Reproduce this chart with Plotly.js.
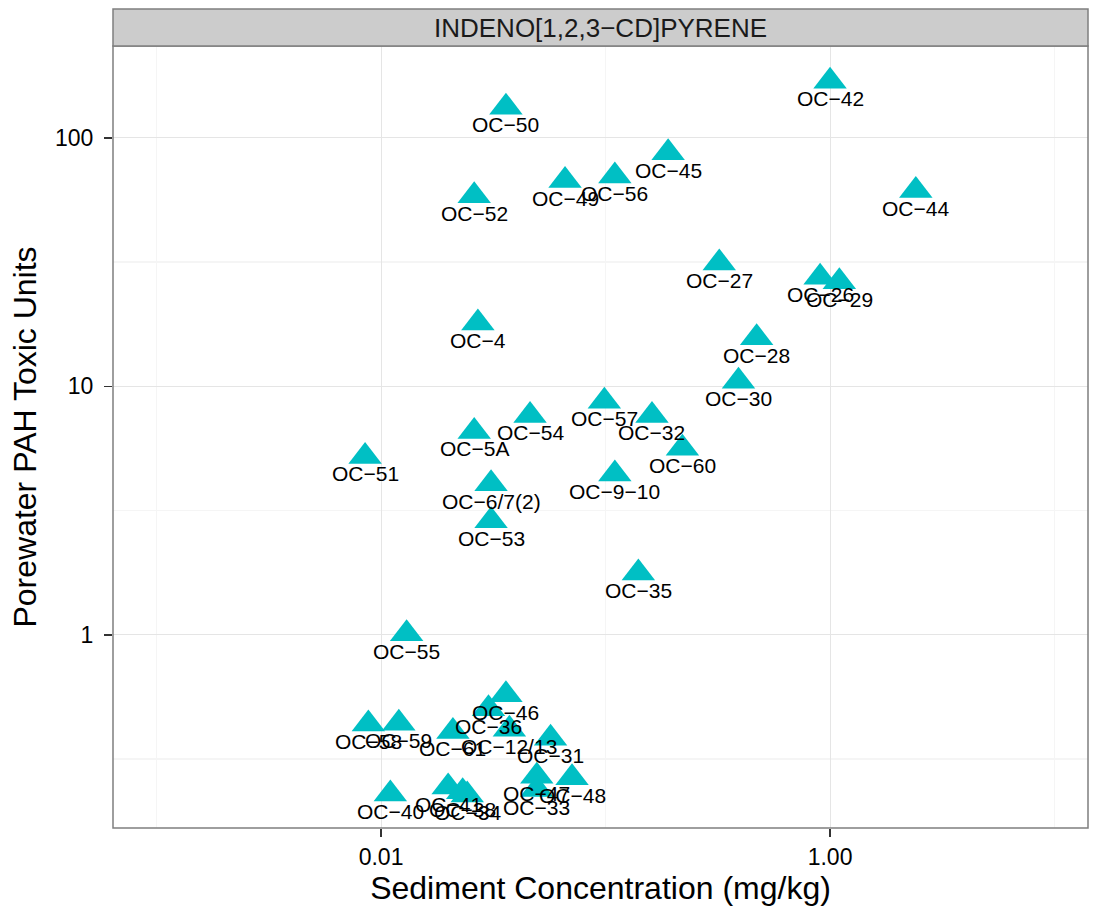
<!DOCTYPE html>
<html>
<head>
<meta charset="utf-8">
<script src="https://cdn.plot.ly/plotly-3.0.1.min.js"></script>
<style>html,body{margin:0;padding:0;background:#fff;}#chart{width:1095px;height:913px;}</style>
</head>
<body>
<div id="chart"></div>
<script>
// Site labels
var sites = ["OC−42","OC−50","OC−45","OC−49","OC−56","OC−52","OC−44","OC−27","OC−26","OC−29",
  "OC−4","OC−28","OC−30","OC−57","OC−54","OC−32","OC−5A","OC−60","OC−51","OC−6/7(2)",
  "OC−9−10","OC−53","OC−35","OC−55","OC−58","OC−59","OC−61","OC−36","OC−46","OC−12/13",
  "OC−31","OC−47","OC−48","OC−33","OC−40","OC−41","OC−38","OC−34"];
// Sediment concentration (mg/kg)
var sediment = [1.00,0.0360,0.190,0.0660,0.110,0.0260,2.41,0.321,0.903,1.10,
  0.0270,0.471,0.391,0.0988,0.0461,0.161,0.0260,0.220,0.00849,0.0309,
  0.110,0.0309,0.140,0.0130,0.00878,0.0120,0.0209,0.0301,0.0360,0.0373,
  0.0569,0.0494,0.0709,0.0494,0.0110,0.0199,0.0231,0.0242];
// Porewater PAH toxic units
var toxicUnits = [169,133,87.1,67.4,70.3,58.5,61.4,31.4,27.5,26.4,
  18.0,15.7,10.5,8.72,7.64,7.64,6.59,5.64,5.23,4.06,
  4.44,2.88,1.777,1.01,0.438,0.441,0.409,0.504,0.574,0.417,
  0.384,0.270,0.266,0.2385,0.229,0.2445,0.234,0.227];

var xTicks = [0.01, 1];
var xTickText = ["0.01", "1.00"];
var xMinor = [0.001, 0.1, 10];
var yTicks = [1, 10, 100];
var yTickText = ["1", "10", "100"];
var yMinor = [Math.pow(10,-0.5), Math.pow(10,0.5), Math.pow(10,1.5)];
var stripTitle = "INDENO[1,2,3−CD]PYRENE";

var FONT = "Liberation Sans, Arial, sans-serif";

var trace = {
  x: sediment, y: toxicUnits, type: "scatter", mode: "markers",
  marker: {symbol: "triangle-up", size: 29, color: "#00BFC4", line: {width: 0}},
  hoverinfo: "skip", cliponaxis: false
};

var annotations = sites.map(function(s, i){
  return {x: Math.log10(sediment[i]), y: Math.log10(toxicUnits[i]), xref: "x", yref: "y",
    text: s, showarrow: false, yshift: -17.5, yanchor: "middle", xanchor: "center",
    font: {family: FONT, size: 21, color: "#000"}};
});
annotations.push({x: 0.5, y: 1.0235, xref: "paper", yref: "paper", text: stripTitle,
  showarrow: false, xanchor: "center", yanchor: "middle",
  font: {family: FONT, size: 26, color: "#1a1a1a"}});

var layout = {
  width: 1095, height: 913,
  margin: {l: 113, r: 7, t: 46, b: 85, pad: 0},
  paper_bgcolor: "#fff", plot_bgcolor: "#fff",
  showlegend: false,
  font: {family: FONT, color: "#000"},
  xaxis: {
    type: "log", range: [-3.194, 1.149],
    tickvals: xTicks, ticktext: xTickText,
    showgrid: true, gridcolor: "#e5e5e5", gridwidth: 1,
    minor: {tickvals: xMinor, showgrid: true, gridcolor: "#f5f5f5", gridwidth: 1.5, ticks: ""},
    zeroline: false, showline: false,
    ticks: "outside", ticklen: 8, tickwidth: 1.5, tickcolor: "#333",
    tickfont: {family: FONT, size: 23, color: "#000"},
    title: {text: "Sediment Concentration (mg/kg)", font: {family: FONT, size: 32, color: "#000"}, standoff: 4}
  },
  yaxis: {
    type: "log", range: [-0.777, 2.370],
    tickvals: yTicks, ticktext: yTickText,
    showgrid: true, gridcolor: "#e5e5e5", gridwidth: 1,
    minor: {tickvals: yMinor, showgrid: true, gridcolor: "#f5f5f5", gridwidth: 1.5, ticks: ""},
    zeroline: false, showline: false,
    ticks: "outside", ticklen: 8, tickwidth: 1.5, tickcolor: "#333",
    ticklabelstandoff: 6,
    tickfont: {family: FONT, size: 23, color: "#000"},
    title: {text: "Porewater PAH Toxic Units", font: {family: FONT, size: 32, color: "#000"}, standoff: 8}
  },
  shapes: [
    {type: "rect", xref: "paper", yref: "paper", x0: 0, x1: 1, y0: 0, y1: 1,
      line: {color: "#7f7f7f", width: 1.5}, fillcolor: "rgba(0,0,0,0)", layer: "above"},
    {type: "rect", xref: "paper", yref: "paper", x0: 0, x1: 1, y0: 1, y1: 1.0473,
      line: {color: "#7f7f7f", width: 1.5}, fillcolor: "#cccccc", layer: "above"}
  ],
  annotations: annotations
};

Plotly.newPlot("chart", [trace], layout, {displayModeBar: false, staticPlot: true});
</script>
</body>
</html>
